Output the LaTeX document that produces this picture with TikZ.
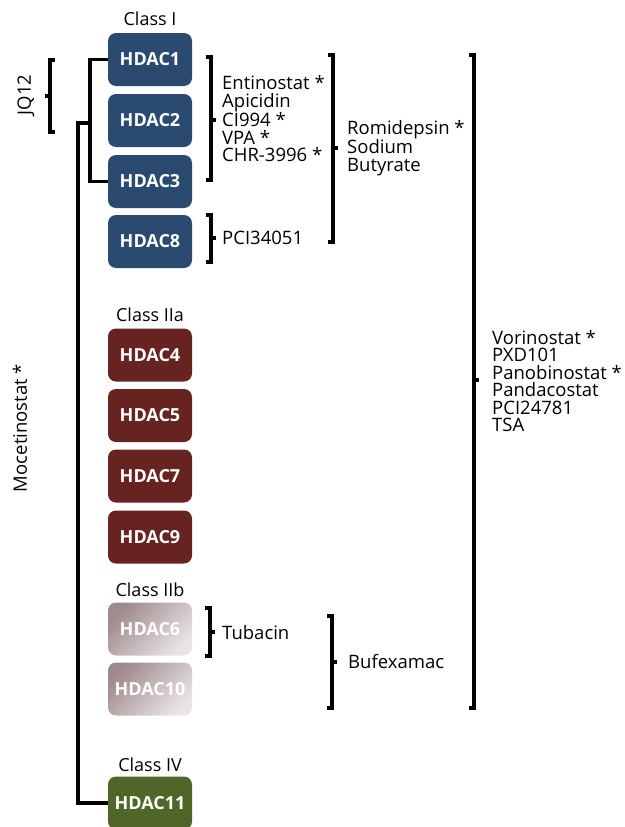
\documentclass[tikz,border=0pt]{standalone}
\usepackage{fontspec}
\setmainfont{Open Sans}
\usepackage{xcolor}
\usepackage{tikz}
\definecolor{classone}{HTML}{2A4A70}
\definecolor{classtwoa}{HTML}{66231F}
\definecolor{classtwobtop}{HTML}{A08A8E}
\definecolor{classtwobbot}{HTML}{E8E4E4}
\definecolor{classfour}{HTML}{4F6628}

\begin{document}
\begin{tikzpicture}[x=1pt, y=-1pt,
        hdac/.style={rounded corners=8pt, minimum width=84pt, minimum height=53pt, inner sep=0pt, text=white, font=\fontsize{18}{18}\selectfont\bfseries},
        classlabel/.style={font=\fontsize{18}{18}\selectfont},
        drug/.style={anchor=west, align=left, inner sep=0pt, font=\fontsize{18.5}{17.5}\selectfont},
        brk/.style={line width=3.2pt},
        tree/.style={line width=3.2pt}]
        \useasboundingbox (0,0) rectangle (624,827);

        \node[classlabel] (c1) at (150,19) {Class I};
        \node[hdac, fill=classone] (h1) at (150,59.5) {HDAC1};
        \node[hdac, fill=classone] (h2) at (150,120.5) {HDAC2};
        \node[hdac, fill=classone] (h3) at (150,181.5) {HDAC3};
        \node[hdac, fill=classone] (h8) at (150,241.5) {HDAC8};

        \node[classlabel] (c2a) at (150,315) {Class IIa};
        \node[hdac, fill=classtwoa] (h4) at (150,355) {HDAC4};
        \node[hdac, fill=classtwoa] (h5) at (150,415.5) {HDAC5};
        \node[hdac, fill=classtwoa] (h7) at (150,476) {HDAC7};
        \node[hdac, fill=classtwoa] (h9) at (150,537) {HDAC9};

        \node[classlabel] (c2b) at (150,590) {Class IIb};
        \node[hdac, top color=classtwobtop, bottom color=classtwobbot, shading angle=45] (h6) at (150,629) {HDAC6};
        \node[hdac, top color=classtwobtop, bottom color=classtwobbot, shading angle=45] (h10) at (150,689) {HDAC10};

        \node[classlabel] (c4) at (150,765) {Class IV};
        \node[hdac, fill=classfour] (h11) at (150,803) {HDAC11};

        \coordinate (fork) at (90,123);
        \coordinate (trunk) at (78,123);
        \draw[tree] (h1.west) -| (fork) |- (h3.west);
        \draw[tree] (fork) -- (trunk) |- (h11.west);

        \node[rotate=90, font=\fontsize{18.5}{18.5}\selectfont] (jq) at (26,95) {JQ12};
        \draw[brk] (55,60) -- (50,60) -- (50,132) -- (55,132);
        \draw[brk] (50,96) -- (45,96);
        \node[rotate=90, font=\fontsize{18.5}{18.5}\selectfont] (moce) at (20,428) {Mocetinostat *};

        \draw[brk] (206,57) -- (211,57) -- (211,180) -- (206,180);
        \draw[brk] (211,120) -- (216,120);
        \node[drug] (entino) at (222,119) {Entinostat *\\Apicidin\\CI994 *\\VPA *\\CHR-3996 *};

        \draw[brk] (206,215) -- (211,215) -- (211,262) -- (206,262);
        \draw[brk] (211,238) -- (216,238);
        \node[drug] (pci) at (222,238) {PCI34051};

        \draw[brk] (328,55) -- (333,55) -- (333,242) -- (328,242);
        \draw[brk] (333,148) -- (338,148);
        \node[drug] (romi) at (347,148) {Romidepsin *\\Sodium\\Butyrate};

        \draw[brk] (469,55) -- (474,55) -- (474,708) -- (469,708);
        \draw[brk] (474,380) -- (479,380);
        \node[drug] (vori) at (492,381) {Vorinostat *\\PXD101\\Panobinostat *\\Pandacostat\\PCI24781\\TSA};

        \draw[brk] (205,608) -- (210,608) -- (210,656) -- (205,656);
        \draw[brk] (210,632) -- (215,632);
        \node[drug] (tuba) at (222,633) {Tubacin};

        \draw[brk] (327,616) -- (332,616) -- (332,708) -- (327,708);
        \draw[brk] (332,662) -- (337,662);
        \node[drug] (bufe) at (348,662) {Bufexamac};
    \end{tikzpicture}
\end{document}
